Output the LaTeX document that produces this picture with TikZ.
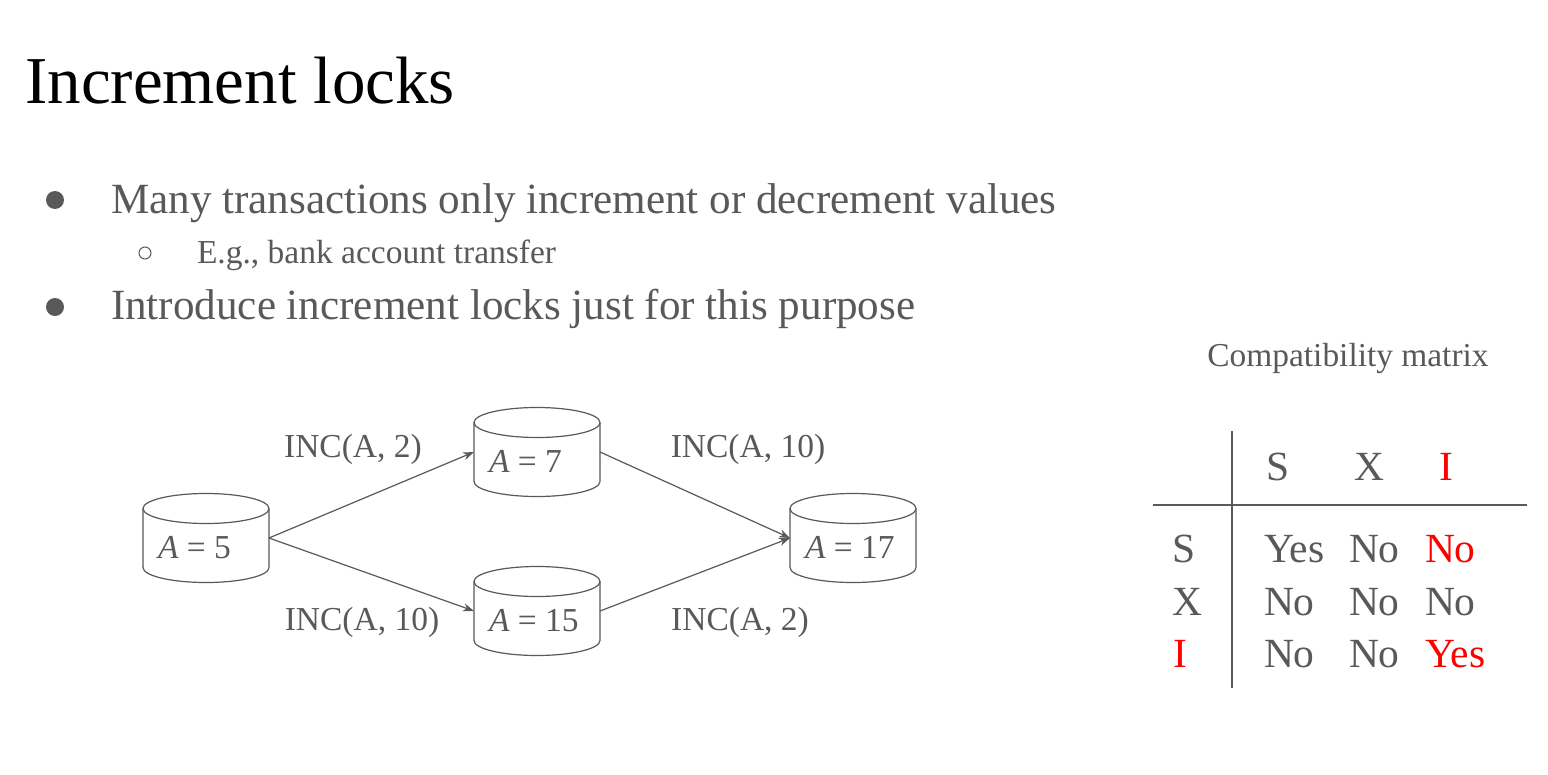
\documentclass[tikz,border=0pt]{standalone}
\usepackage{fontspec}
\setmainfont{Liberation Serif}
\usetikzlibrary{arrows.meta}
\definecolor{txtgray}{HTML}{595959}
\definecolor{lred}{HTML}{FF0000}
\tikzset{
  fs/.style={font=\fontsize{#1bp}{#1bp}\selectfont},
  plain/.style={inner sep=0pt, outer sep=0pt, text=txtgray},
  cylbox/.style={rectangle, minimum width=126bp, minimum height=89bp, inner sep=0pt, outer sep=0pt, text=txtgray, fs=33.5},
  cylline/.style={draw=txtgray, line width=1.2bp},
  conn/.style={draw=txtgray, line width=1.2bp, -{Stealth[length=11bp,width=8bp]}},
  inclabel/.style={plain, fs=33.5, anchor=base},
  cell/.style={plain, fs=41.5, anchor=base west},
  hcell/.style={plain, fs=41.5, anchor=base},
  rule/.style={draw=txtgray, line width=1.2bp},
}
\newcommand\dbcyl[4]{%
  \node[cylbox] (#1) at (#2,#3) {\raisebox{-20bp}[0pt][0pt]{\makebox[96bp][l]{#4}}};
  \draw[cylline] ([yshift=-15bp]#1.north west) -- ([yshift=15bp]#1.south west)
     arc[start angle=180, end angle=360, x radius=63bp, y radius=15bp]
     -- ([yshift=-15bp]#1.north east);
  \draw[cylline] ([yshift=-15bp]#1.north) ellipse [x radius=63bp, y radius=15bp];
}
\begin{document}
\begin{tikzpicture}[x=1bp, y=-1bp]
\useasboundingbox[fill=white] (0,0) rectangle (1548,774);

% title
\node[inner sep=0pt, anchor=base west, fs=67] (title) at (25,103) {Increment locks};

% bullets
\fill[txtgray] (55,200) circle[radius=9bp];
\node[plain, anchor=base west, fs=43.1] (b1) at (111,213) {Many transactions only increment or decrement values};
\draw[txtgray, line width=1bp] (145,253) circle[radius=6bp];
\node[plain, anchor=base west, fs=33.5] (b2) at (197,263) {E.g., bank account transfer};
\fill[txtgray] (55,307) circle[radius=9bp];
\node[plain, anchor=base west, fs=43.1] (b3) at (111,319) {Introduce increment locks just for this purpose};

% cylinders
\dbcyl{a5}{206}{538}{\textit{A} = 5}
\dbcyl{a7}{537}{452}{\textit{A} = 7}
\dbcyl{a15}{537}{611}{\textit{A} = 15}
\dbcyl{a17}{853}{538}{\textit{A} = 17}

\draw[conn] (a5.east) -- (a7.west);
\draw[conn] (a5.east) -- (a15.west);
\draw[conn] (a7.east) -- (a17.west);
\draw[conn] (a15.east) -- (a17.west);

\node[inclabel] (l1) at (353,457) {INC(A, 2)};
\node[inclabel] (l2) at (362,630) {INC(A, 10)};
\node[inclabel] (l3) at (748,457) {INC(A, 10)};
\node[inclabel] (l4) at (740,630) {INC(A, 2)};

% compatibility matrix
\node[plain, fs=33.4, anchor=base] (ctitle) at (1348,366) {Compatibility matrix};
\coordinate (vt) at (1232,431);
\coordinate (vb) at (1232,688);
\coordinate (hl) at (1153,505);
\coordinate (hr) at (1527,505);
\draw[rule] (vt) -- (vb);
\draw[rule] (hl) -- (hr);

\node[hcell] (hS) at (1278,480) {S};
\node[hcell] (hX) at (1369,480) {X};
\node[hcell, text=lred] (hI) at (1446,480) {I};

\node[hcell] (rS) at (1184,562) {S};
\node[hcell] (rX) at (1187,615) {X};
\node[hcell, text=lred] (rI) at (1180,667) {I};

\node[cell] (c11) at (1264,562) {Yes};
\node[cell] (c12) at (1349,562) {No};
\node[cell, text=lred] (c13) at (1425,562) {No};
\node[cell] (c21) at (1264,615) {No};
\node[cell] (c22) at (1349,615) {No};
\node[cell] (c23) at (1425,615) {No};
\node[cell] (c31) at (1264,667) {No};
\node[cell] (c32) at (1349,667) {No};
\node[cell, text=lred] (c33) at (1425,667) {Yes};
\end{tikzpicture}
\end{document}
